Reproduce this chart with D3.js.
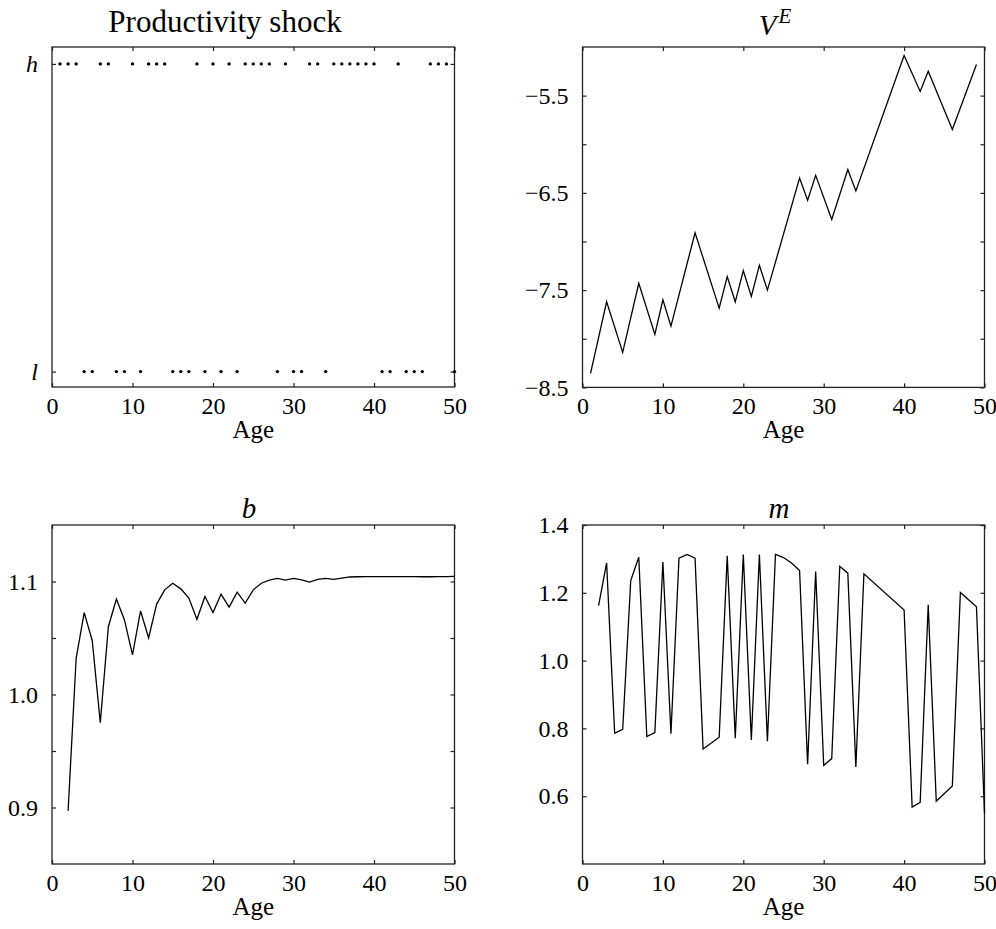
<!DOCTYPE html>
<html>
<head>
<meta charset="utf-8">
<style>
body { margin: 0; background: #fff; }
svg text, svg tspan { font-family: 'Liberation Serif'; }
</style>
</head>
<body>
<svg width="996" height="929"></svg>
<script src="https://cdn.jsdelivr.net/npm/d3@7"></script>
<script>
// ages 1..50 and the shock drawn at each age
var ages = d3.range(1, 51);
var shock = ["h","h","h","l","l","h","h","l","l","h",
             "l","h","h","h","l","l","l","h","l","h",
             "l","h","l","h","h","h","h","l","h","l",
             "l","h","h","l","h","h","h","h","h","h",
             "l","l","h","l","l","l","h","h","h","l"];

// V^E, read at the turning points of the line
var vAge = [1, 3, 5, 7, 9, 10, 11, 14, 17, 18, 19, 20, 21, 22, 23, 27, 28, 29, 31, 33, 34, 40, 42, 43, 46, 49];
var vVal = [-8.355, -7.62, -8.14, -7.43, -7.955, -7.60, -7.87, -6.91, -7.685, -7.36, -7.62, -7.30, -7.565,
            -7.245, -7.50, -6.347, -6.576, -6.32, -6.774, -6.26, -6.48, -5.087, -5.457, -5.25, -5.847, -5.18];

// b, ages 2..50
var bAge = d3.range(2, 51);
var bVal = [0.897, 1.032, 1.0725, 1.0476, 0.975, 1.060, 1.0844, 1.066, 1.035, 1.074,
            1.050, 1.080, 1.0926, 1.0985, 1.0935, 1.0853, 1.0666, 1.0867, 1.0725, 1.0888,
            1.0773, 1.0906, 1.0808, 1.0926, 1.0985, 1.1012, 1.1027, 1.1012, 1.1027, 1.1015,
            1.0995, 1.1018, 1.1027, 1.1018, 1.103, 1.104, 1.1042, 1.1043, 1.1043, 1.1043,
            1.1043, 1.1043, 1.1043, 1.1043, 1.1042, 1.1042, 1.1043, 1.1044, 1.1045];

// m
var mAge = [2, 3, 4, 5, 6, 7, 8, 9, 10, 11, 12, 13, 14, 15, 17, 18, 19, 20, 21, 22, 23, 24, 25, 26, 27,
            28, 29, 30, 31, 32, 33, 34, 35, 40, 41, 42, 43, 44, 46, 47, 49, 50];
var mVal = [1.162, 1.288, 0.786, 0.797, 1.236, 1.305, 0.776, 0.788, 1.291, 0.784, 1.302, 1.313, 1.302,
            0.739, 0.774, 1.309, 0.771, 1.313, 0.766, 1.313, 0.762, 1.313, 1.304, 1.288, 1.266,
            0.694, 1.263, 0.691, 0.711, 1.278, 1.258, 0.686, 1.256, 1.149, 0.568, 0.582, 1.165,
            0.585, 0.630, 1.201, 1.159, 0.55];

var xTicks = [0, 10, 20, 30, 40, 50];

var svg = d3.select("svg");
var frameColor = "#222";

function panel(left, right, top, bottom, yDom, yTicks, yFmt) {
    var x = d3.scaleLinear().domain([0, 50]).range([left, right]);
    var y = d3.scaleLinear().domain(yDom).range([bottom, top]);
    var g = svg.append("g");

    g.append("g").attr("transform", "translate(0," + bottom + ")")
        .call(d3.axisBottom(x).tickValues(xTicks).tickSize(-4).tickPadding(10).tickFormat(d3.format("d")));
    g.append("g").attr("transform", "translate(0," + top + ")")
        .call(d3.axisTop(x).tickValues(xTicks).tickSize(-4).tickFormat(""));
    g.append("g").attr("transform", "translate(" + left + ",0)")
        .call(d3.axisLeft(y).tickValues(yTicks).tickSize(-4).tickPadding(14).tickFormat(yFmt));
    g.append("g").attr("transform", "translate(" + right + ",0)")
        .call(d3.axisRight(y).tickValues(yTicks).tickSize(-4).tickFormat(""));

    g.selectAll(".domain").remove();
    g.selectAll(".tick line").attr("stroke", frameColor).attr("stroke-width", 1.2);
    g.selectAll(".tick text").attr("fill", "#000").attr("font-size", 24);

    g.append("rect")
        .attr("x", left).attr("y", top)
        .attr("width", right - left).attr("height", bottom - top)
        .attr("fill", "none").attr("stroke", frameColor).attr("stroke-width", 1.3);

    g.append("text")
        .attr("x", (left + right) / 2).attr("y", bottom + 51)
        .attr("text-anchor", "middle").attr("font-size", 25)
        .text("Age");

    return {g: g, x: x, y: y};
}

function drawLine(p, xs, ys) {
    var pts = xs.map((a, i) => [a, ys[i]]);
    p.g.append("path")
        .datum(pts)
        .attr("fill", "none")
        .attr("stroke", "#000")
        .attr("stroke-width", 1.3)
        .attr("d", d3.line().x(d => p.x(d[0])).y(d => p.y(d[1])));
}

// top left: productivity shock
var p1 = panel(52, 454.5, 47, 387, [-0.05, 1.055], [0, 1], d => d == 1 ? "h" : "l");
p1.g.selectAll(".tick text").filter(function() { return this.textContent == "h" || this.textContent == "l"; })
    .attr("font-style", "italic");
p1.g.append("g").selectAll("circle")
    .data(ages)
    .enter().append("circle")
    .attr("cx", d => p1.x(d))
    .attr("cy", (d, i) => p1.y(shock[i] == "h" ? 1 : 0))
    .attr("r", 1.7)
    .attr("fill", "#000");
svg.append("text").attr("x", 225).attr("y", 32).attr("text-anchor", "middle")
    .attr("font-size", 31).text("Productivity shock");

// top right: V^E
var fmt1 = d3.format(".1f");
var p2 = panel(582.5, 984.5, 47, 387.4, [-8.5, -5.0], [-8.5, -8, -7.5, -7, -6.5, -6, -5.5],
    d => (Math.round(d * 2) % 2 != 0) ? fmt1(d) : "");
drawLine(p2, vAge, vVal);
var t2 = svg.append("text").attr("x", 775).attr("y", 35).attr("text-anchor", "middle").attr("font-size", 29);
t2.append("tspan").attr("font-style", "italic").text("V");
t2.append("tspan").attr("font-style", "italic").attr("font-size", 21).attr("dx", 2).attr("dy", -12).text("E");

// bottom left: b
var p3 = panel(52, 454.5, 525, 864, [0.85, 1.15], [0.9, 0.95, 1.0, 1.05, 1.1],
    d => (Math.round(d * 100) % 10 == 0) ? fmt1(d) : "");
drawLine(p3, bAge, bVal);
svg.append("text").attr("x", 249).attr("y", 518).attr("text-anchor", "middle")
    .attr("font-size", 29).attr("font-style", "italic").text("b");

// bottom right: m
var p4 = panel(582.5, 984.5, 525, 864, [0.4, 1.4], [0.6, 0.8, 1.0, 1.2, 1.4], fmt1);
drawLine(p4, mAge, mVal);
svg.append("text").attr("x", 779).attr("y", 518).attr("text-anchor", "middle")
    .attr("font-size", 29).attr("font-style", "italic").text("m");

// serif on every text node (axes set sans-serif on their groups)
svg.selectAll("text, tspan").attr("font-family", "Liberation Serif");
</script>
</body>
</html>
